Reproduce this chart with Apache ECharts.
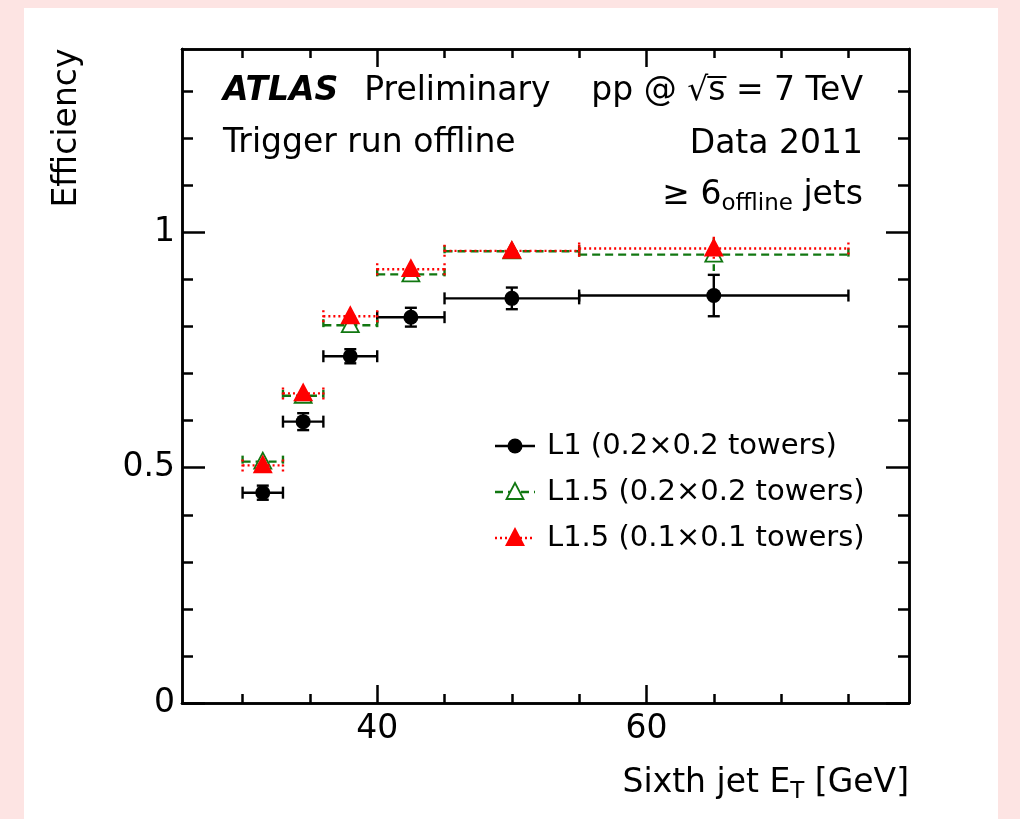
<!DOCTYPE html>
<html>
<head>
<meta charset="utf-8">
<script src="https://cdn.jsdelivr.net/npm/echarts@6/dist/echarts.min.js"></script>
<style>
html, body { margin: 0; padding: 0; background: #fde4e3; }
#panel { position: absolute; left: 24px; top: 8px; width: 974px; height: 811px; background: #fff; }
#chart { position: absolute; left: 0; top: 0; width: 1020px; height: 819px; }
</style>
</head>
<body>
<div id="panel"></div>
<div id="chart"></div>
<script>
// bins of the sixth jet ET [GeV]
const binLow = [30, 33, 36, 40, 45, 55];
const binHigh = [33, 36, 40, 45, 55, 75];
const binCenter = [31.5, 34.5, 38, 42.5, 50, 65];

// trigger efficiencies and their errors
const effL1 = [0.447, 0.598, 0.737, 0.820, 0.860, 0.866];
const errL1 = [0.015, 0.018, 0.015, 0.020, 0.023, 0.044];
const effL15Coarse = [0.513, 0.653, 0.803, 0.911, 0.960, 0.953];
const errL15Coarse = [0.013, 0.015, 0.015, 0.013, 0.008, 0.035];
const effL15Fine = [0.505, 0.658, 0.822, 0.922, 0.961, 0.966];
const errL15Fine = [0.015, 0.015, 0.015, 0.012, 0.007, 0.025];

// tick positions
const xMajor = [40, 60];
const xMinor = [30, 35, 45, 50, 55, 65, 70, 75];
const yMajor = [0, 0.5, 1];
const yMinor = [0.1, 0.2, 0.3, 0.4, 0.6, 0.7, 0.8, 0.9, 1.1, 1.2, 1.3];

const seriesNames = ['L1 (0.2×0.2 towers)', 'L1.5 (0.2×0.2 towers)', 'L1.5 (0.1×0.1 towers)'];

const FONT = '"DejaVu Sans", "Liberation Sans", Arial, sans-serif';
const X_MIN = 25.5, X_MAX = 79.5, Y_MIN = 0, Y_MAX = 1.39;
const LW = 2.4;

const styles = [
  { color: '#000000', dash: null, marker: 'circle', fill: '#000000', caps: true },
  { color: '#117711', dash: [8, 5], marker: 'triangle', fill: '#ffffff', caps: false },
  { color: '#ff0000', dash: [2, 3], marker: 'triangle', fill: '#ff0000', caps: false }
];

function makeMarker(kind, cx, cy, st) {
  if (kind === 'circle') {
    return { type: 'circle', shape: { cx: cx, cy: cy, r: 7.5 }, style: { fill: st.fill }, z2: 10 };
  }
  return {
    type: 'polygon',
    shape: { points: [[cx, cy - 9], [cx - 8.5, cy + 7], [cx + 8.5, cy + 7]] },
    style: { fill: st.fill, stroke: st.color, lineWidth: 1.8 },
    z2: 10
  };
}

function makeRender(st) {
  return function (params, api) {
    const lo = api.value(0), hi = api.value(1), xc = api.value(2), y = api.value(3), e = api.value(4);
    const pL = api.coord([lo, y]);
    const pR = api.coord([hi, y]);
    const pC = api.coord([xc, y]);
    const pT = api.coord([xc, y + e]);
    const pB = api.coord([xc, y - e]);
    const ls = { stroke: st.color, lineWidth: LW, lineDash: st.dash };
    const children = [
      { type: 'line', shape: { x1: pL[0], y1: pL[1], x2: pR[0], y2: pR[1] }, style: ls },
      { type: 'line', shape: { x1: pL[0], y1: pL[1] - 6, x2: pL[0], y2: pL[1] + 6 }, style: ls },
      { type: 'line', shape: { x1: pR[0], y1: pR[1] - 6, x2: pR[0], y2: pR[1] + 6 }, style: ls },
      { type: 'line', shape: { x1: pT[0], y1: pT[1], x2: pB[0], y2: pB[1] }, style: ls }
    ];
    if (st.caps) {
      children.push({ type: 'line', shape: { x1: pT[0] - 6, y1: pT[1], x2: pT[0] + 6, y2: pT[1] }, style: ls });
      children.push({ type: 'line', shape: { x1: pB[0] - 6, y1: pB[1], x2: pB[0] + 6, y2: pB[1] }, style: ls });
    }
    children.push(makeMarker(st.marker, pC[0], pC[1], st));
    return { type: 'group', children: children };
  };
}

function buildData(eff, err) {
  return binLow.map(function (lo, i) { return [lo, binHigh[i], binCenter[i], eff[i], err[i]]; });
}

const black = { color: '#000', width: 2.5 };

function xAxisDef(pos, ticks, len, showLabel) {
  return {
    type: 'value', position: pos, min: X_MIN, max: X_MAX,
    axisLine: { show: true, onZero: false, lineStyle: black },
    axisTick: { show: true, inside: true, length: len, customValues: ticks, lineStyle: black },
    axisLabel: {
      show: showLabel, customValues: ticks, margin: 10,
      color: '#000', fontSize: 33, fontFamily: FONT
    },
    splitLine: { show: false }
  };
}

function yAxisDef(pos, ticks, len, showLabel) {
  return {
    type: 'value', position: pos, min: Y_MIN, max: Y_MAX,
    axisLine: { show: true, onZero: false, lineStyle: black },
    axisTick: { show: true, inside: true, length: len, customValues: ticks, lineStyle: black },
    axisLabel: {
      show: showLabel, customValues: ticks, margin: 7,
      color: '#000', fontSize: 33, fontFamily: FONT
    },
    splitLine: { show: false }
  };
}

// legend drawn by hand: line sample, marker and label
const legendRowsY = [446, 492, 538];
const legendGraphics = [];
styles.forEach(function (st, i) {
  const yy = legendRowsY[i];
  legendGraphics.push({ type: 'line', shape: { x1: 495, y1: yy, x2: 535, y2: yy }, style: { stroke: st.color, lineWidth: LW, lineDash: st.dash } });
  legendGraphics.push(makeMarker(st.marker, 515, yy, st));
  legendGraphics.push({
    type: 'text', x: 547, y: yy,
    style: { text: seriesNames[i], font: '29px ' + FONT, fill: '#000', textVerticalAlign: 'middle' }
  });
});

// overline of the square root, measured from the text itself
const ctx = document.createElement('canvas').getContext('2d');
ctx.font = '33px ' + FONT;
const tailW = ctx.measureText(' = 7 TeV').width;
const sW = ctx.measureText('s').width;
const rootRight = 863 - tailW;

const textGraphics = [
  {
    type: 'text', x: 223, y: 91,
    style: {
      text: '{b|ATLAS}{r|Preliminary}', textVerticalAlign: 'middle', fill: '#000',
      rich: {
        b: { fontSize: 33, fontFamily: FONT, fontWeight: 'bold', fontStyle: 'italic', padding: [0, 26, 0, 0] },
        r: { fontSize: 33, fontFamily: FONT }
      }
    }
  },
  { type: 'text', x: 223, y: 143, style: { text: 'Trigger run offline', font: '33px ' + FONT, fill: '#000', textVerticalAlign: 'middle' } },
  { type: 'text', x: 863, y: 91, style: { text: 'pp @ \u221As = 7 TeV', font: '33px ' + FONT, fill: '#000', textAlign: 'right', textVerticalAlign: 'middle' } },
  { type: 'line', shape: { x1: rootRight - sW - 1, y1: 77, x2: rootRight + 1, y2: 77 }, style: { stroke: '#000', lineWidth: 2 } },
  { type: 'text', x: 863, y: 144, style: { text: 'Data 2011', font: '33px ' + FONT, fill: '#000', textAlign: 'right', textVerticalAlign: 'middle' } },
  {
    type: 'text', x: 863, y: 195,
    style: {
      text: '{r|\u2265 6}{s|offline}{r| jets}', textAlign: 'right', textVerticalAlign: 'middle', fill: '#000',
      rich: {
        r: { fontSize: 33, fontFamily: FONT },
        s: { fontSize: 23, fontFamily: FONT, padding: [18, 0, 0, 0] }
      }
    }
  },
  {
    type: 'text', x: 67, y: 128, rotation: Math.PI / 2,
    style: { text: 'Efficiency', font: '33px ' + FONT, fill: '#000', textAlign: 'center', textVerticalAlign: 'middle' }
  },
  {
    type: 'text', x: 909, y: 783,
    style: {
      text: '{r|Sixth jet E}{s|T}{r| [GeV]}', textAlign: 'right', textVerticalAlign: 'middle', fill: '#000',
      rich: {
        r: { fontSize: 33, fontFamily: FONT },
        s: { fontSize: 23, fontFamily: FONT, padding: [18, 0, 0, 0] }
      }
    }
  }
];

const chart = echarts.init(document.getElementById('chart'), null, { renderer: 'canvas' });
chart.setOption({
  backgroundColor: 'transparent',
  animation: false,
  grid: { left: 182, top: 49, right: 111, bottom: 116, containLabel: false },
  xAxis: [
    xAxisDef('bottom', xMajor, 18, true),
    xAxisDef('top', xMajor, 18, false),
    xAxisDef('bottom', xMinor, 9, false),
    xAxisDef('top', xMinor, 9, false)
  ],
  yAxis: [
    yAxisDef('left', yMajor, 23, true),
    yAxisDef('right', yMajor, 23, false),
    yAxisDef('left', yMinor, 11, false),
    yAxisDef('right', yMinor, 11, false)
  ],
  series: [
    { name: seriesNames[0], type: 'custom', renderItem: makeRender(styles[0]), data: buildData(effL1, errL1), encode: { x: [0, 1, 2], y: 3 }, z: 3 },
    { name: seriesNames[1], type: 'custom', renderItem: makeRender(styles[1]), data: buildData(effL15Coarse, errL15Coarse), encode: { x: [0, 1, 2], y: 3 }, z: 4 },
    { name: seriesNames[2], type: 'custom', renderItem: makeRender(styles[2]), data: buildData(effL15Fine, errL15Fine), encode: { x: [0, 1, 2], y: 3 }, z: 5 }
  ],
  graphic: legendGraphics.concat(textGraphics)
});
</script>
</body>
</html>
